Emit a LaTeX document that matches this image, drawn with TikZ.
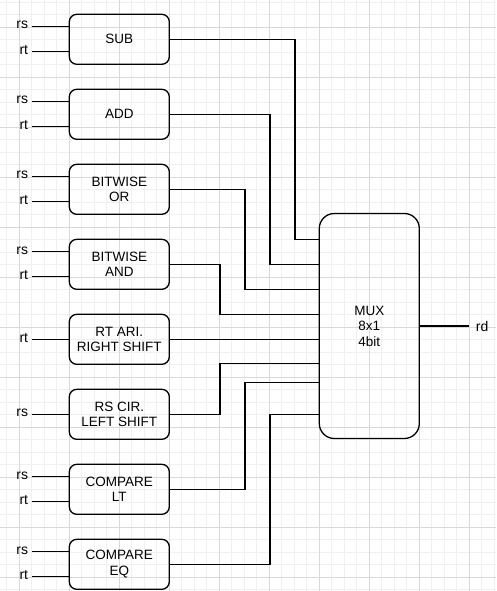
\documentclass[tikz,border=0pt]{standalone}
\usepackage{fontspec}
\setmainfont{Liberation Sans}
\begin{document}
\begin{tikzpicture}[x=1pt,y=-1pt,
  wire/.style={line width=1.3pt,black},
  unit/.style={draw,line width=1.3pt,rounded corners=7.5pt,minimum width=100pt,minimum height=50pt,
    align=center,inner sep=0pt,font=\fontsize{13.5}{15.5}\selectfont},
  muxbox/.style={draw,line width=1.3pt,rounded corners=15pt,minimum width=100pt,minimum height=225pt,
    align=center,inner sep=0pt,font=\fontsize{13.5}{15.5}\selectfont},
  pin/.style={anchor=east,inner xsep=3.4pt,inner ysep=0pt,yshift=1.5pt,font=\fontsize{14}{16}\selectfont},
  minorgrid/.style={line width=0.8pt,black!6},
  majorgrid/.style={line width=0.8pt,black!15}]
\useasboundingbox (0,0) rectangle (496,591);
\fill[white] (0,0) rectangle (496,591);
% background grid
\foreach \x in {6.8,19.3,...,496} \draw[minorgrid] (\x,0) -- (\x,591);
\foreach \y in {2.3,14.8,...,591} \draw[minorgrid] (0,\y) -- (496,\y);
\foreach \x in {19.3,69.3,...,496} \draw[majorgrid] (\x,0) -- (\x,591);
\foreach \y in {27.3,77.3,...,591} \draw[majorgrid] (0,\y) -- (496,\y);

% functional units
\node[unit] (sub) at (119.3,39.3)  {SUB};
\node[unit] (add) at (119.3,114.3) {ADD};
\node[unit] (bor) at (119.3,189.3) {BITWISE\\OR};
\node[unit] (band) at (119.3,264.3) {BITWISE\\AND};
\node[unit] (sra) at (119.3,339.3) {RT ARI.\\RIGHT SHIFT};
\node[unit] (rol) at (119.3,414.3) {RS CIR.\\LEFT SHIFT};
\node[unit] (clt) at (119.3,489.3) {COMPARE\\LT};
\node[unit] (ceq) at (119.3,564.3) {COMPARE\\EQ};

% multiplexer
\node[muxbox] (mux) at (369.3,326) {MUX\\8x1\\4bit};

% operand inputs
\foreach \u in {sub,add,bor,band,clt,ceq}{
  \coordinate (\u-s) at ([yshift=12.5pt]\u.west -| 31.7,0);
  \coordinate (\u-t) at ([yshift=-12.5pt]\u.west -| 31.7,0);
  \node[pin] at (\u-s) {rs};
  \node[pin] at (\u-t) {rt};
  \draw[wire] (\u-s) -- (\u-s -| \u.west);
  \draw[wire] (\u-t) -- (\u-t -| \u.west);
}
\coordinate (sra-t) at (sra.west -| 31.7,0);
\node[pin] at (sra-t) {rt};
\draw[wire] (sra-t) -- (sra.west);
\coordinate (rol-s) at (rol.west -| 31.7,0);
\node[pin] at (rol-s) {rs};
\draw[wire] (rol-s) -- (rol.west);

% multiplexer inputs
\coordinate (in1) at (mux.west |- 0,239.3);
\coordinate (in2) at (mux.west |- 0,264.3);
\coordinate (in3) at (mux.west |- 0,289.3);
\coordinate (in4) at (mux.west |- 0,314.3);
\coordinate (in5) at (mux.west |- 0,339.3);
\coordinate (in6) at (mux.west |- 0,363.5);
\coordinate (in7) at (mux.west |- 0,382.5);
\coordinate (in8) at (mux.west |- 0,414.3);

\draw[wire] (sub.east) -- ++(125,0) |- (in1);
\draw[wire] (add.east) -- ++(100,0) |- (in2);
\draw[wire] (bor.east) -- ++(75,0) |- (in3);
\draw[wire] (band.east) -- ++(50,0) |- (in4);
\draw[wire] (sra.east) -- (in5);
\draw[wire] (rol.east) -- ++(50,0) |- (in6);
\draw[wire] (clt.east) -- ++(75,0) |- (in7);
\draw[wire] (ceq.east) -- ++(100,0) |- (in8);

% output
\coordinate (out) at (469.3,326);
\draw[wire] (mux.east) -- (out);
\node[anchor=west,inner xsep=6.4pt,inner ysep=0pt,font=\fontsize{14}{16}\selectfont] at (out) {rd};
\end{tikzpicture}
\end{document}
